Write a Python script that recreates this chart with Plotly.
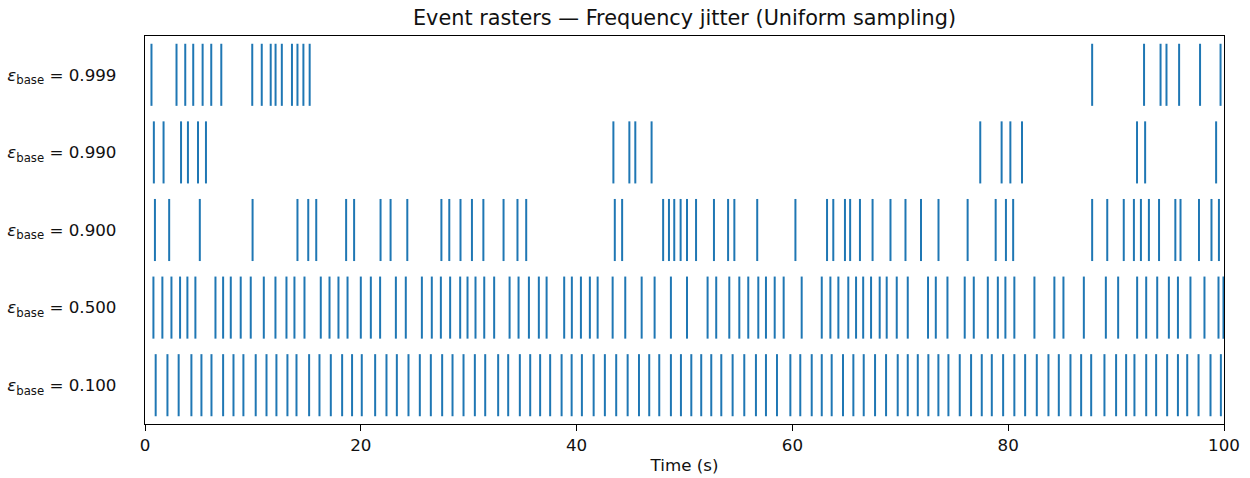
import plotly.graph_objects as go

# ---- data ----
row_labels = ["0.100", "0.500", "0.900", "0.990", "0.999"]

events_0999 = [0.60, 2.92, 3.73, 4.47, 5.34, 6.14, 7.07, 9.94, 10.82, 11.65, 12.10, 12.68,
               13.62, 14.13, 14.68, 15.26, 87.78, 92.59, 94.12, 94.67, 95.84, 97.78, 99.68]

events_0990 = [0.82, 1.72, 3.34, 3.98, 4.91, 5.65, 43.41, 44.89, 45.44, 46.95,
               77.41, 79.39, 80.20, 81.28, 91.94, 92.69, 99.27]

events_0900 = [0.92, 2.24, 5.08, 9.97, 14.13, 15.13, 15.87, 18.64, 19.38, 21.83, 22.76, 24.31,
               27.47, 28.20, 29.24, 30.30, 31.36, 33.23, 34.52, 35.33, 43.54, 44.22, 48.02, 48.56,
               49.05, 49.64, 50.23, 51.07, 52.73, 54.04, 54.62, 56.74, 60.28, 63.21, 63.79, 64.87,
               65.35, 66.26, 67.43, 69.09, 70.48, 71.92, 73.54, 76.24, 78.84, 79.79, 80.46, 87.78,
               89.18, 90.71, 91.65, 92.30, 93.04, 93.98, 95.49, 95.97, 97.68, 98.84, 99.53]

events_0500 = [0.78, 1.61, 2.45, 3.25, 3.93, 4.67, 6.53, 7.24, 7.95, 8.87, 9.80, 11.01, 12.09,
               13.11, 13.85, 14.78, 16.29, 17.10, 17.93, 18.77, 20.00, 20.93, 21.79, 23.25, 24.17,
               25.66, 26.58, 27.42, 28.28, 29.21, 29.89, 30.63, 31.44, 32.36, 33.79, 34.62, 35.58,
               36.50, 37.22, 38.85, 39.56, 40.40, 41.23, 41.95, 43.34, 44.51, 46.03, 47.23, 48.74,
               50.23, 52.14, 52.94, 54.15, 55.08, 55.91, 56.84, 57.55, 58.36, 59.19, 60.86, 62.72,
               63.52, 64.26, 65.18, 65.90, 66.56, 67.29, 68.09, 68.74, 69.67, 70.69, 72.57, 73.29,
               74.37, 75.97, 76.81, 78.11, 79.04, 79.74, 80.57, 82.43, 84.28, 85.12, 87.01, 89.05,
               90.19, 91.95, 92.79, 93.81, 94.89, 95.73, 96.89, 98.19, 99.49, 99.95]

events_0100 = [0.99, 2.08, 3.12, 4.30, 5.23, 6.16, 7.24, 8.20, 9.12, 10.26, 11.26, 12.18, 13.20,
               14.04, 15.21, 16.17, 17.22, 18.27, 19.19, 20.09, 21.33, 22.38, 23.34, 24.42, 25.47,
               26.49, 27.54, 28.50, 29.52, 30.57, 31.53, 32.73, 33.66, 34.74, 35.70, 36.62, 37.55,
               38.61, 39.54, 40.49, 41.58, 42.62, 43.67, 44.73, 45.78, 46.73, 47.66, 48.74, 49.67,
               50.63, 51.55, 52.48, 53.41, 54.46, 55.54, 56.62, 57.55, 58.57, 59.81, 60.73, 61.79,
               62.72, 63.64, 64.69, 65.65, 66.61, 67.66, 68.68, 69.76, 70.69, 71.62, 72.60, 73.53,
               74.46, 75.51, 76.56, 77.55, 78.48, 79.53, 80.57, 81.57, 82.65, 83.73, 84.69, 85.77,
               86.76, 87.69, 88.92, 90.00, 90.93, 91.70, 92.79, 93.71, 94.73, 95.73, 96.59, 97.64,
               98.75, 99.71]

rows = [events_0100, events_0500, events_0900, events_0990, events_0999]
x_ticks = [0, 20, 40, 60, 80, 100]

COLOR = "#1f77b4"
LINE_LEN = 0.8
FONT = "DejaVu Sans, Liberation Sans, sans-serif"
TICK_SIZE = 16.7
TITLE_SIZE = 20.8

fig = go.Figure()
for i, ev in enumerate(rows):
    xs, ys = [], []
    for t in ev:
        xs += [t, t, None]
        ys += [i - LINE_LEN / 2, i + LINE_LEN / 2, None]
    fig.add_trace(go.Scatter(x=xs, y=ys, mode="lines",
                             line=dict(color=COLOR, width=2),
                             hoverinfo="skip", showlegend=False))

ticktext = [f"<i>ε</i><sub>base</sub> = {lab}" for lab in row_labels]

fig.update_layout(
    width=1250, height=478,
    margin=dict(l=145, r=26, t=36, b=54, autoexpand=False),
    paper_bgcolor="white", plot_bgcolor="white",
    font=dict(family=FONT, size=TICK_SIZE, color="#111111"),
    title=dict(text="Event rasters — Frequency jitter (Uniform sampling)",
               x=(145 + 1224) / 2 / 1250, xref="container",
               xanchor="center", y=1 - 18 / 478, yref="container", yanchor="middle",
               font=dict(family=FONT, size=TITLE_SIZE, color="#111111")),
    xaxis=dict(range=[0, 100], tickvals=x_ticks, ticktext=[str(v) for v in x_ticks],
               showgrid=False, zeroline=False, showline=True, linecolor="black",
               linewidth=1.3, mirror=True, ticks="outside", ticklen=6, tickwidth=1.3,
               tickcolor="black", tickfont=dict(size=TICK_SIZE),
               title=dict(text="Time (s)", standoff=5, font=dict(family=FONT, size=TICK_SIZE))),
    yaxis=dict(range=[-0.5, 4.5], tickvals=list(range(len(row_labels))), ticktext=ticktext,
               showgrid=False, zeroline=False, showline=True, linecolor="black",
               linewidth=1.3, mirror=True, ticks="", ticklabelstandoff=24,
               tickfont=dict(size=TICK_SIZE)),
)

fig.write_html("out.html")
